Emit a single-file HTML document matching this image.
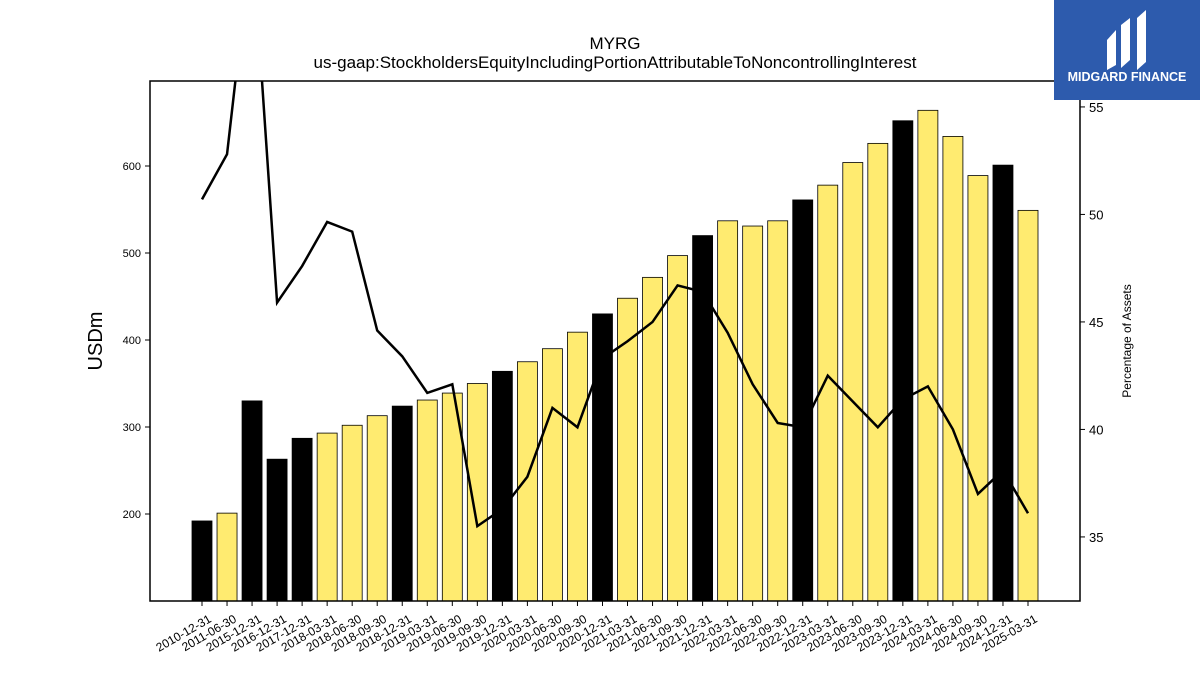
<!DOCTYPE html>
<html><head><meta charset="utf-8"><style>
body{margin:0;background:#fff;font-family:"Liberation Sans","DejaVu Sans",sans-serif}
</style></head><body>
<svg id="c" width="1200" height="675" xmlns="http://www.w3.org/2000/svg">
<rect width="1200" height="675" fill="#fff"/>
<text x="615" y="49" text-anchor="middle" font-size="17">MYRG</text>
<text x="615" y="68" text-anchor="middle" font-size="17">us-gaap:StockholdersEquityIncludingPortionAttributableToNoncontrollingInterest</text>
<g id="bars"></g><g id="xt"></g><g id="yl"></g><g id="yr"></g>
<defs><clipPath id="clip"><rect x="150" y="81" width="930" height="520"/></clipPath></defs>
<path id="line" fill="none" stroke="#000" stroke-width="2.5" clip-path="url(#clip)"/>
<rect x="150" y="81" width="930" height="520" fill="none" stroke="#000" stroke-width="1.5"/>
<text transform="translate(102,341) rotate(-90)" text-anchor="middle" font-size="20">USDm</text>
<text transform="translate(1131,341) rotate(-90)" text-anchor="middle" font-size="12">Percentage of Assets</text>
<g>
<rect x="1054" y="0" width="146" height="100" fill="#2d5bad"/>
<path d="M1107 40 L1116 30 L1116 65 L1107 70 Z M1121 25 L1130 18 L1130 60 L1121 68 Z M1137 18 L1146 10 L1146 62 L1137 70 Z" fill="#fff"/>
<text x="1127" y="81" text-anchor="middle" font-size="12.5" font-weight="bold" fill="#fff">MIDGARD FINANCE</text>
</g>
</svg>
<script>
const categories=["2010-12-31","2011-06-30","2015-12-31","2016-12-31","2017-12-31","2018-03-31","2018-06-30","2018-09-30","2018-12-31","2019-03-31","2019-06-30","2019-09-30","2019-12-31","2020-03-31","2020-06-30","2020-09-30","2020-12-31","2021-03-31","2021-06-30","2021-09-30","2021-12-31","2022-03-31","2022-06-30","2022-09-30","2022-12-31","2023-03-31","2023-06-30","2023-09-30","2023-12-31","2024-03-31","2024-06-30","2024-09-30","2024-12-31","2025-03-31"];
const equity=[192,201,330,263,287,293,302,313,324,331,339,350,364,375,390,409,430,448,472,497,520,537,531,537,561,578,604,626,652,664,634,589,601,549];
const pctAssets=[50.7,52.8,63,45.9,47.6,49.65,49.2,44.6,43.4,41.7,42.1,35.5,36.3,37.8,41.0,40.1,43.3,44.1,45.0,46.7,46.4,44.5,42.1,40.3,40.1,42.5,41.3,40.1,41.4,42.0,40.0,37.0,38.1,36.1];
const leftTicks=[200,300,400,500,600];
const rightTicks=[35,40,45,50,55];
const NS="http://www.w3.org/2000/svg";
const xs=i=>202+i*(1028-202)/(categories.length-1);
const yL=v=>601-(v-100)*0.87;
const yR=v=>601-(v-32.02)*21.5;
function mk(t,a,p){const e=document.createElementNS(NS,t);for(const k in a)e.setAttribute(k,a[k]);document.getElementById(p).appendChild(e);return e;}
categories.forEach((c,i)=>{
 const black=c.endsWith("12-31");
 const b=mk("rect",{x:xs(i)-10,y:yL(equity[i]),width:20,height:601-yL(equity[i]),fill:black?"#000":"#ffeb70",stroke:"#000","stroke-width":0.8},"bars");
 
 
 mk("line",{x1:xs(i),x2:xs(i),y1:601,y2:606,stroke:"#000"},"xt");
 const t=mk("text",{transform:`translate(${xs(i)+6},${614}) rotate(-30)`,"text-anchor":"end","font-size":"12",dy:"0.7em"},"xt");
 t.textContent=c;
 
 
});
leftTicks.forEach(v=>{
 mk("line",{x1:145,x2:150,y1:yL(v),y2:yL(v),stroke:"#000"},"yl");
 const t=mk("text",{x:141,y:yL(v)+4,"text-anchor":"end","font-size":"11"},"yl");
 t.textContent=v;
 
 
});
rightTicks.forEach(v=>{
 mk("line",{x1:1080,x2:1085,y1:yR(v),y2:yR(v),stroke:"#000"},"yr");
 const t=mk("text",{x:1089,y:yR(v)+5,"font-size":"13"},"yr");
 t.textContent=v;
 
 
});
document.getElementById("line").setAttribute("d",pctAssets.map((v,i)=>(i?"L":"M")+xs(i)+" "+yR(v)).join(" "));
</script>
</body></html>
